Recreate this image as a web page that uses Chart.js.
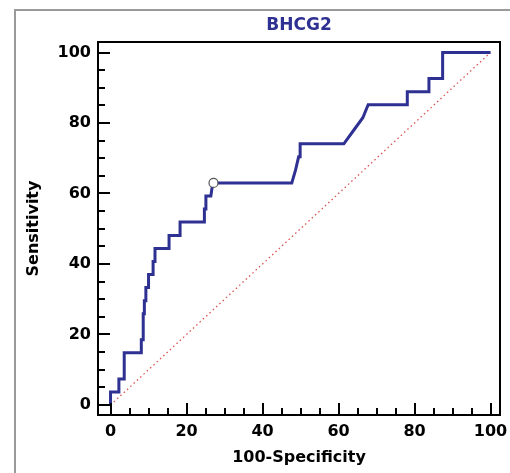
<!DOCTYPE html>
<html>
<head>
<meta charset="utf-8">
<script src="https://cdn.jsdelivr.net/npm/chart.js@4/dist/chart.umd.min.js"></script>
<style>
  body { margin: 0; background: #fff; }
  #wrap { position: relative; width: 510px; height: 473px; overflow: hidden; }
  #edge { position: absolute; left: 14px; top: 9px; width: 520px; height: 480px; border: 2px solid #9a9a9a; }
  #roc { position: absolute; left: 0; top: 0; }
</style>
</head>
<body>
<div id="wrap">
  <div id="edge"></div>
  <canvas id="roc" width="510" height="473"></canvas>
</div>
<script>
// ROC curve corners (100-Specificity, Sensitivity)
const fpr = [0, 0, 2.2, 2.2, 3.6, 3.6, 8.1, 8.1, 8.6, 8.6, 8.9, 8.9, 9.3, 9.3, 10.0, 10.0,
  11.2, 11.2, 11.7, 11.7, 15.4, 15.4, 18.3, 18.3, 24.7, 24.7, 25.1, 25.1, 26.4, 26.9,
  47.7, 48.7, 49.5, 49.9, 49.9, 61.4, 63.9, 66.4, 67.8, 78.1, 78.1, 83.8, 83.8, 87.4, 87.4, 100];
const tpr = [0, 3.7, 3.7, 7.4, 7.4, 14.8, 14.8, 18.5, 18.5, 25.9, 25.9, 29.6, 29.6, 33.3, 33.3, 37.0,
  37.0, 40.7, 40.7, 44.4, 44.4, 48.1, 48.1, 51.9, 51.9, 55.6, 55.6, 59.3, 59.3, 63.0,
  63.0, 66.7, 70.4, 70.4, 74.1, 74.1, 77.8, 81.5, 85.2, 85.2, 88.9, 88.9, 92.6, 92.6, 100, 100];

// optimal cut-off point
const cutX = [27.1];
const cutY = [63.0];

// chance line
const diagX = [0, 100];
const diagY = [0, 100];

const xTicks = [0, 20, 40, 60, 80, 100];
const yTicks = [0, 20, 40, 60, 80, 100];
const minorStep = 5;

const navy = '#2e3192';
const fontFam = '"DejaVu Sans", Verdana, sans-serif';

function toPoints(xs, ys) {
  return xs.map((x, i) => ({ x: x, y: ys[i] }));
}

// frame round the plot + tick marks pointing inward
const frameTicks = {
  id: 'frameTicks',
  afterDraw(chart) {
    const ctx = chart.ctx;
    const a = chart.chartArea;
    const xs = chart.scales.x, ys = chart.scales.y;
    ctx.save();
    ctx.strokeStyle = '#000';
    ctx.lineWidth = 2;
    for (let v = 0; v <= 100; v += minorStep) {
      const len = (v % 20 === 0) ? 12 : 7;
      const px = Math.round(xs.getPixelForValue(v));
      ctx.beginPath();
      ctx.moveTo(px, a.bottom);
      ctx.lineTo(px, a.bottom - len);
      ctx.stroke();
      const py = Math.round(ys.getPixelForValue(v));
      ctx.beginPath();
      ctx.moveTo(a.left, py);
      ctx.lineTo(a.left + len, py);
      ctx.stroke();
    }
    ctx.strokeRect(a.left, a.top, a.right - a.left, a.bottom - a.top);
    ctx.restore();
  }
};

new Chart(document.getElementById('roc'), {
  type: 'scatter',
  data: {
    datasets: [
      {
        label: 'cut-off',
        data: toPoints(cutX, cutY),
        showLine: false,
        pointRadius: 4.5,
        pointBackgroundColor: '#fff',
        pointBorderColor: '#555',
        pointBorderWidth: 1.2
      },
      {
        label: 'BHCG2',
        data: toPoints(fpr, tpr),
        showLine: true,
        borderColor: navy,
        borderWidth: 3,
        tension: 0,
        pointRadius: 0,
        fill: false
      },
      {
        label: 'chance',
        data: toPoints(diagX, diagY),
        showLine: true,
        borderColor: '#d9534f',
        borderWidth: 1.3,
        borderDash: [1.5, 3],
        pointRadius: 0,
        fill: false
      }
    ]
  },
  options: {
    responsive: false,
    animation: false,
    layout: { padding: { left: 0, right: 10, top: 0, bottom: 0 } },
    plugins: {
      legend: { display: false },
      tooltip: { enabled: false },
      title: {
        display: true,
        fullSize: false,
        text: 'BHCG2',
        color: navy,
        font: { family: fontFam, size: 17, weight: 'bold', lineHeight: 1.2 },
        padding: { top: 15, bottom: 6.6 }
      }
    },
    scales: {
      x: {
        type: 'linear',
        min: -3.3,
        max: 102.5,
        afterFit: s => { s.height = 58; s.paddingLeft = 0; s.paddingRight = 0; },
        afterBuildTicks: s => { s.ticks = xTicks.map(v => ({ value: v })); },
        grid: { display: false, drawTicks: false },
        border: { display: false },
        ticks: {
          color: '#000',
          padding: 7,
          maxRotation: 0,
          font: { family: fontFam, size: 16, weight: 'bold' }
        },
        title: {
          display: true,
          text: '100-Specificity',
          color: '#000',
          font: { family: fontFam, size: 16, weight: 'bold', lineHeight: 1.2 },
          padding: { top: 0, bottom: 6 }
        }
      },
      y: {
        type: 'linear',
        min: -2.84,
        max: 102.98,
        afterFit: s => { s.width = 98; s.paddingTop = 0; s.paddingBottom = 0; },
        afterBuildTicks: s => { s.ticks = yTicks.map(v => ({ value: v })); },
        grid: { display: false, drawTicks: false },
        border: { display: false },
        ticks: {
          color: '#000',
          padding: 7,
          font: { family: fontFam, size: 16, weight: 'bold' }
        },
        title: {
          display: true,
          text: 'Sensitivity',
          color: '#000',
          font: { family: fontFam, size: 16, weight: 'bold', lineHeight: 1.2 },
          padding: { top: 24, bottom: 0 }
        }
      }
    }
  },
  plugins: [frameTicks]
});
</script>
</body>
</html>
